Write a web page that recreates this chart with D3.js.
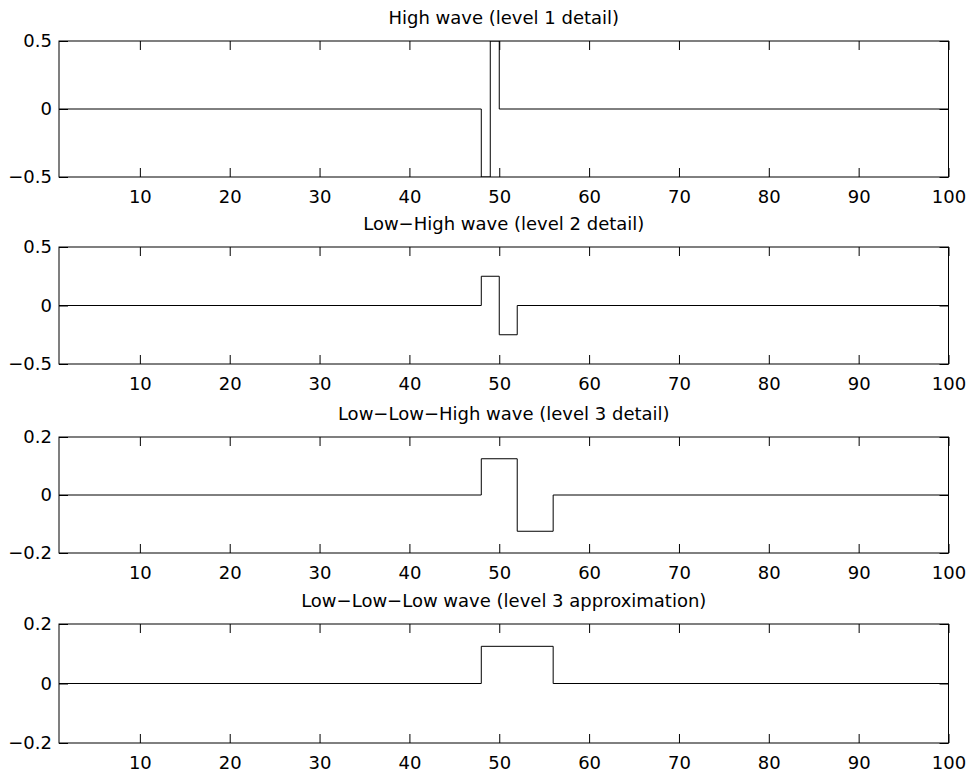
<!DOCTYPE html>
<html>
<head>
<meta charset="utf-8">
<script src="https://cdn.jsdelivr.net/npm/d3@7/dist/d3.min.js"></script>
<style>
  html, body { margin: 0; padding: 0; background: #fff; }
  svg { display: block; }
  text { font-family: "DejaVu Sans", sans-serif; font-size: 18px; fill: #000; }
</style>
</head>
<body>
<svg id="chart" width="971" height="776"></svg>
<script>
// ---- Data ----
const titles = [
  "High wave (level 1 detail)",
  "Low\u2212High wave (level 2 detail)",
  "Low\u2212Low\u2212High wave (level 3 detail)",
  "Low\u2212Low\u2212Low wave (level 3 approximation)"
];
const xDomain = [1, 100];
const xTicks = [10, 20, 30, 40, 50, 60, 70, 80, 90, 100];

// step edges (x where value changes) and the value held after each edge
const edges1 = [1, 48, 49, 50, 100];
const values1 = [0, -0.5, 0.5, 0];
const edges2 = [1, 48, 50, 52, 100];
const values2 = [0, 0.25, -0.25, 0];
const edges3 = [1, 48, 52, 56, 100];
const values3 = [0, 0.125, -0.125, 0];
const edges4 = [1, 48, 56, 100];
const values4 = [0, 0.125, 0];

const yDomains = [[-0.5, 0.5], [-0.5, 0.5], [-0.2, 0.2], [-0.2, 0.2]];
const yTicks = [[-0.5, 0, 0.5], [-0.5, 0, 0.5], [-0.2, 0, 0.2], [-0.2, 0, 0.2]];

// ---- Layout ----
const svg = d3.select("#chart");
const left = 59, right = 948.5;
const panels = [
  { top: 41, bottom: 177, edges: edges1, values: values1 },
  { top: 247, bottom: 364, edges: edges2, values: values2 },
  { top: 437, bottom: 553, edges: edges3, values: values3 },
  { top: 624, bottom: 743, edges: edges4, values: values4 }
];

const x = d3.scaleLinear().domain(xDomain).range([left, right]);
const fmt = v => (v < 0 ? "\u2212" : "") + (v === 0 ? "0" : String(Math.abs(v)));

panels.forEach((p, i) => {
  const y = d3.scaleLinear().domain(yDomains[i]).range([p.bottom, p.top]);
  const g = svg.append("g");

  // clip
  const cid = "clip" + i;
  svg.append("clipPath").attr("id", cid).append("rect")
    .attr("x", left).attr("y", p.top).attr("width", right - left).attr("height", p.bottom - p.top);

  // data as stairs
  const pts = p.values.map((v, k) => [p.edges[k], v]);
  pts.push([p.edges[p.edges.length - 1], p.values[p.values.length - 1]]);
  const line = d3.line().x(d => x(d[0])).y(d => y(d[1])).curve(d3.curveStepAfter);
  g.append("path").attr("d", line(pts))
    .attr("fill", "none").attr("stroke", "#000").attr("stroke-width", 1)
    .attr("clip-path", `url(#${cid})`);

  // axes
  const bottomAxis = d3.axisBottom(x).tickValues(xTicks).tickSizeInner(-9).tickSizeOuter(0).tickPadding(13).tickFormat(d3.format("d"));
  const topAxis = d3.axisTop(x).tickValues(xTicks).tickSizeInner(-9).tickSizeOuter(0).tickFormat("");
  const leftAxis = d3.axisLeft(y).tickValues(yTicks[i]).tickSizeInner(-9).tickSizeOuter(0).tickPadding(7).tickFormat(fmt);
  const rightAxis = d3.axisRight(y).tickValues(yTicks[i]).tickSizeInner(-9).tickSizeOuter(0).tickFormat("");

  const ab = g.append("g").attr("transform", `translate(0,${p.bottom})`).call(bottomAxis);
  const at = g.append("g").attr("transform", `translate(0,${p.top})`).call(topAxis);
  const al = g.append("g").attr("transform", `translate(${left},0)`).call(leftAxis);
  const ar = g.append("g").attr("transform", `translate(${right},0)`).call(rightAxis);
  [ab, at, al, ar].forEach(a => {
    a.select(".domain").remove();
    a.selectAll("line").attr("stroke", "#000");
    a.selectAll("text").attr("font-family", "DejaVu Sans, sans-serif").attr("font-size", 18).attr("fill", "#000");
  });

  // box
  g.append("rect").attr("x", left).attr("y", p.top)
    .attr("width", right - left).attr("height", p.bottom - p.top)
    .attr("fill", "none").attr("stroke", "#000").attr("stroke-width", 1);

  // title
  g.append("text").attr("x", (left + right) / 2).attr("y", p.top - 17)
    .attr("text-anchor", "middle").text(titles[i]);
});
</script>
</body>
</html>
